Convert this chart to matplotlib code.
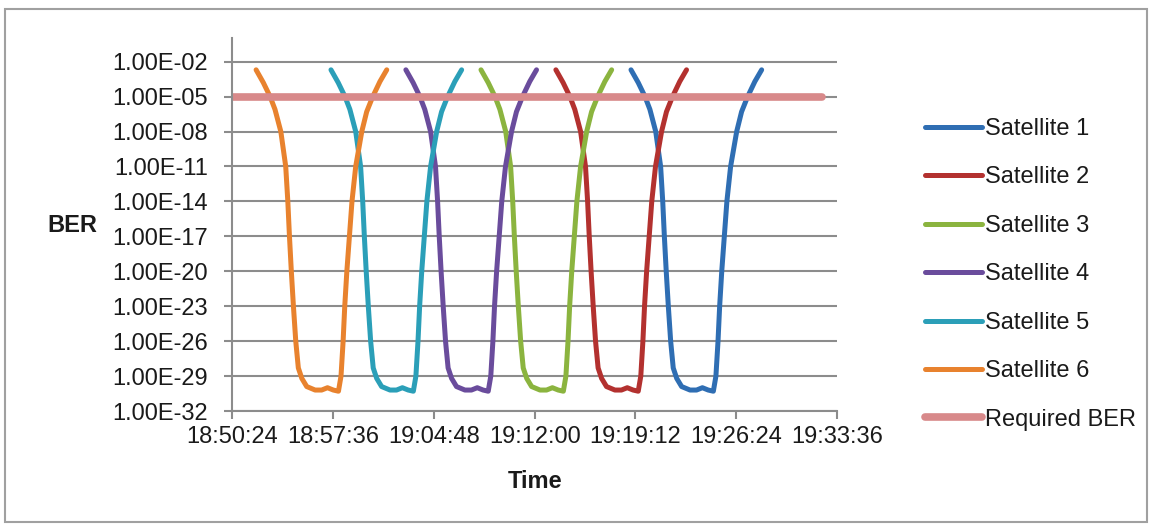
import numpy as np
import pandas as pd
import matplotlib
matplotlib.use("Agg")
import matplotlib.pyplot as plt
from matplotlib.patches import Rectangle
from matplotlib.ticker import NullLocator

plt.rcParams['font.family'] = ['Liberation Sans', 'DejaVu Sans']

DAY = "2000-01-01 "

# === Data ===
satellites = ["Satellite 1", "Satellite 2", "Satellite 3",
              "Satellite 4", "Satellite 5", "Satellite 6"]
# first point of each pass
pass_start = ["19:18:53", "19:13:31", "19:08:10", "19:02:48", "18:57:27", "18:52:06"]

# all passes have the same shape: seconds after pass start, log10(BER)
pass_offset_s = [0, 31, 60, 81, 106, 127, 136, 143, 151, 160, 170, 181, 196, 217, 253, 281,
                 306, 331, 353, 364, 373, 380, 389, 400, 411, 427, 453, 474, 500, 531, 560]
pass_log_ber = [-2.7, -3.8, -5.0, -6.1, -8.0, -11.0, -14.0, -17.0, -20.0, -23.0, -26.0,
                -28.3, -29.2, -29.9, -30.2, -30.2, -30.0, -30.2, -30.3, -29.0, -26.0, -23.0,
                -20.0, -17.0, -14.0, -11.0, -8.0, -6.3, -5.0, -3.7, -2.7]

required_ber = 1e-5
required_span = ["18:50:24", "19:32:30"]

xtick_labels = ["18:50:24", "18:57:36", "19:04:48", "19:12:00",
                "19:19:12", "19:26:24", "19:33:36"]
ytick_exp = [-32, -29, -26, -23, -20, -17, -14, -11, -8, -5, -2]

# === Style ===
colors = ["#2F6EB3", "#B3312F", "#8BB43F", "#6A4C9C", "#2B9FB8", "#E8822E"]
pink = "#D8898A"
grid_c = "#8C8C8C"
FS = 17

W, H = 1153, 531
fig = plt.figure(figsize=(W / 100, H / 100), dpi=100)
ax = fig.add_axes([232.3 / W, 1 - 411 / H, (837 - 232.3) / W, (411 - 38.4) / H])

for name, start, c in zip(satellites, pass_start, colors):
    t = pd.Timestamp(DAY + start) + pd.to_timedelta(pass_offset_s, unit="s")
    ax.plot(t, 10.0 ** np.array(pass_log_ber), color=c, lw=3.6,
            solid_capstyle="round", solid_joinstyle="round", label=name)

req_t = pd.to_datetime([DAY + s for s in required_span])
ax.plot(req_t, [required_ber] * len(req_t), color=pink, lw=5.5,
        solid_capstyle="round", label="Required BER")

ax.set_yscale("log")
ax.set_ylim(1e-32, 1)
ax.set_yticks(10.0 ** np.array(ytick_exp, dtype=float))
ax.set_yticklabels([f"1.00E-{-e:02d}" for e in ytick_exp])
ax.yaxis.set_minor_locator(NullLocator())

xt = pd.to_datetime([DAY + s for s in xtick_labels])
ax.set_xlim(xt[0], xt[-1])
ax.set_xticks(xt)
ax.set_xticklabels(xtick_labels)

ax.grid(axis="y", color=grid_c, lw=1.5)
ax.grid(axis="x", visible=False)
ax.set_axisbelow(True)
for s in ["top", "right"]:
    ax.spines[s].set_visible(False)
for s in ["left", "bottom"]:
    ax.spines[s].set_color(grid_c)
    ax.spines[s].set_linewidth(1.5)
ax.tick_params(axis="y", direction="out", length=5.5, width=1.5, color=grid_c,
               pad=12, labelsize=FS, labelcolor="#1a1a1a")
ax.tick_params(axis="x", direction="out", length=5.5, width=1.5, color=grid_c,
               pad=5, labelsize=FS, labelcolor="#1a1a1a")

fig.text(72 / W, 1 - 226 / H, "BER", ha="center", va="center",
         fontsize=FS, fontweight="bold", color="#1a1a1a")
fig.text(534.6 / W, 1 - 482 / H, "Time", ha="center", va="center",
         fontsize=FS, fontweight="bold", color="#1a1a1a")

ax.legend(loc="upper left", bbox_to_anchor=(925 / W, 1 - 118 / H),
          bbox_transform=fig.transFigure, frameon=False, fontsize=FS,
          handlelength=2.4, handletextpad=0.15, labelspacing=1.12,
          borderpad=0, borderaxespad=0, labelcolor="#1a1a1a")

fig.patches.append(Rectangle((5 / W, 1 - 522 / H), (1147 - 5) / W, (522 - 9) / H,
                             transform=fig.transFigure, fill=False,
                             edgecolor="#A0A0A0", lw=1.5))

fig.savefig("out.png", dpi=100)
